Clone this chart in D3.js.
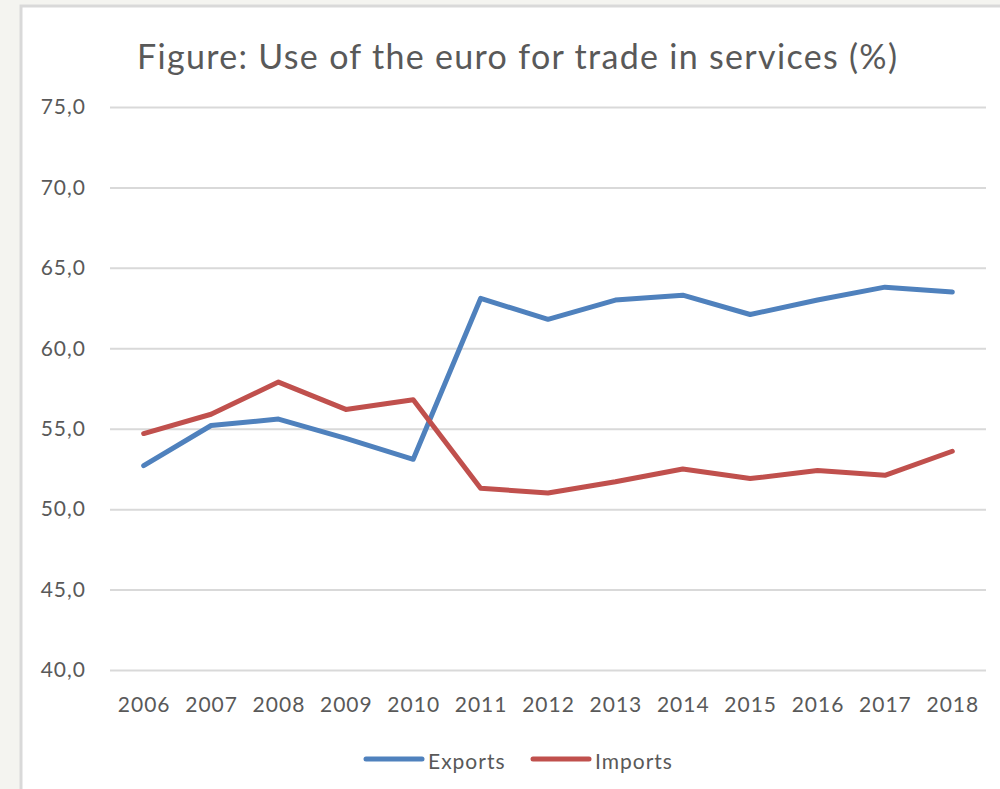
<!DOCTYPE html>
<html>
<head>
<meta charset="utf-8">
<script src="https://cdn.jsdelivr.net/npm/d3@7"></script>
<style>
  html, body { margin: 0; padding: 0; background: #f4f4f0; }
  svg { display: block; }
  text { font-family: Lato, "Open Sans", sans-serif; fill: #595959; }
</style>
</head>
<body>
<script>
// Use of the euro for trade in services.
var years = ['2006', '2007', '2008', '2009', '2010', '2011', '2012',
             '2013', '2014', '2015', '2016', '2017', '2018'];
var exportsPct = [52.7, 55.2, 55.6, 54.4, 53.1, 63.1, 61.8, 63.0, 63.3, 62.1, 63.0, 63.8, 63.5];
var importsPct = [54.7, 55.9, 57.9, 56.2, 56.8, 51.3, 51.0, 51.7, 52.5, 51.9, 52.4, 52.1, 53.6];
var yTicks = [40, 45, 50, 55, 60, 65, 70, 75];
var seriesNames = ['Exports', 'Imports'];
var seriesColors = ['#4f81bd', '#c0504d'];

var width = 1000,
    height = 789,
    margin = {top: 107, right: 14, bottom: 119, left: 110};

var svg = d3.select('body').append('svg')
    .attr('width', width)
    .attr('height', height);

// chart area box
svg.append('rect')
    .attr('x', 21)
    .attr('y', 6)
    .attr('width', width + 10)
    .attr('height', height + 10)
    .style('fill', '#ffffff')
    .style('stroke', '#d9d9d9')
    .style('stroke-width', 3);

svg.append('text')
    .attr('x', 137)
    .attr('y', 69)
    .attr('textLength', 760)
    .attr('lengthAdjust', 'spacing')
    .style('font-size', '34px')
    .text('Figure: Use of the euro for trade in services (%)');

var xs = d3.scalePoint()
    .domain(years)
    .range([margin.left, width - margin.right])
    .padding(0.5);

var ys = d3.scaleLinear()
    .domain([40, 75])
    .range([height - margin.bottom, margin.top]);

var fmt = function(d) { return d3.format('.1f')(d).replace('.', ','); };

var yAxis = svg.append('g')
    .attr('transform', 'translate(' + margin.left + ',0)')
    .call(d3.axisLeft(ys)
        .tickValues(yTicks)
        .tickSize(-(width - margin.left - margin.right))
        .tickPadding(24)
        .tickFormat(fmt));
yAxis.select('.domain').remove();
yAxis.selectAll('line')
    .style('stroke', '#d9d9d9')
    .style('stroke-width', 2);
yAxis.selectAll('text')
    .style('font-size', '21px')
    .style('letter-spacing', '1px')
    .style('fill', '#595959')
    .style('font-family', 'Lato, "Open Sans", sans-serif');

var xAxis = svg.append('g')
    .attr('transform', 'translate(0,' + (height - margin.bottom) + ')')
    .call(d3.axisBottom(xs).tickSize(0).tickPadding(27));
xAxis.select('.domain').remove();
xAxis.selectAll('text')
    .style('font-size', '21px')
    .style('letter-spacing', '1px')
    .style('fill', '#595959')
    .style('font-family', 'Lato, "Open Sans", sans-serif');

var line = d3.line()
    .x(function(d, i) { return xs(years[i]); })
    .y(function(d) { return ys(d); });

[exportsPct, importsPct].forEach(function(vals, k) {
    svg.append('path')
        .datum(vals)
        .attr('d', line)
        .style('fill', 'none')
        .style('stroke', seriesColors[k])
        .style('stroke-width', 5)
        .style('stroke-linejoin', 'round')
        .style('stroke-linecap', 'round');
});

// legend
var legendX = [366, 533];
var legend = svg.append('g');
seriesNames.forEach(function(name, k) {
    legend.append('line')
        .attr('x1', legendX[k])
        .attr('x2', legendX[k] + 56)
        .attr('y1', 759)
        .attr('y2', 759)
        .style('stroke', seriesColors[k])
        .style('stroke-width', 5)
        .style('stroke-linecap', 'round');
    legend.append('text')
        .attr('x', legendX[k] + 62)
        .attr('y', 769)
        .style('font-size', '21px')
        .style('letter-spacing', '1px')
        .text(name);
});
</script>
</body>
</html>
